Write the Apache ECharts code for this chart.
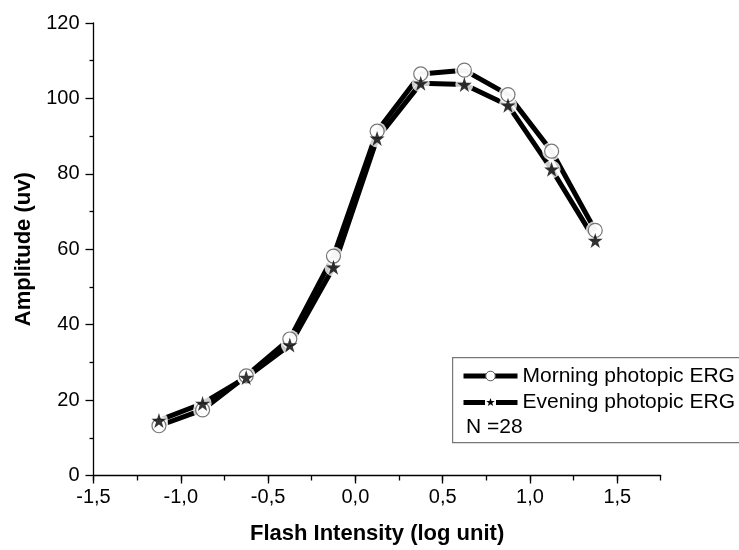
<!DOCTYPE html>
<html>
<head>
<meta charset="utf-8">
<script src="https://cdn.jsdelivr.net/npm/echarts@6/dist/echarts.min.js"></script>
<style>
  html, body { margin: 0; padding: 0; background: #fff; }
  #chart { width: 739px; height: 550px; }
</style>
</head>
<body>
<div id="chart"></div>
<script>
// Flash intensities (log unit) of the stimulus series
const intensities = [-1.125, -0.875, -0.625, -0.375, -0.125, 0.125, 0.375, 0.625, 0.875, 1.125, 1.375];
// Mean photopic ERG amplitudes (uv)
const morningAmp = [13.2, 17.4, 26.4, 36.2, 58.2, 91.3, 106.5, 107.5, 101.0, 86.0, 65.0];
const eveningAmp = [14.6, 19.1, 26.0, 34.6, 55.2, 89.4, 104.0, 103.7, 98.2, 81.2, 62.3];
const seriesNames = ['Morning photopic ERG', 'Evening photopic ERG'];
const sampleNote = 'N =28';

const pairs = vals => intensities.map((x, i) => [x, vals[i]]);
const FONT = '"Liberation Sans", Arial, sans-serif';
const comma = v => Number(v).toFixed(1).replace('.', ',');
const STAR = 'path://M50,0 L61.8,36.2 L100,36.2 L69.1,58.8 L80.9,95.1 L50,72.7 L19.1,95.1 L30.9,58.8 L0,36.2 L38.2,36.2 Z';
// legend key: thick dash, small star, thick dash
const STAR_KEY = 'path://M0,3.5 L21.5,3.5 L21.5,8.5 L0,8.5 Z ' +
  'M27,1.5 L28.06,4.54 L31.28,4.61 L28.71,6.56 L29.65,9.64 L27,7.8 L24.35,9.64 L25.29,6.56 L22.72,4.61 L25.94,4.54 Z ' +
  'M32.5,3.5 L54,3.5 L54,8.5 L32.5,8.5 Z';

const chart = echarts.init(document.getElementById('chart'), null, { renderer: 'canvas' });

const lineCommon = {
  type: 'line',
  xAxisIndex: 0, yAxisIndex: 0,
  showSymbol: false,
  symbolSize: 14,
  silent: true,
  z: 2
};

chart.setOption({
  animation: false,
  backgroundColor: '#fff',
  grid: [
    { left: 93.5, right: 78.3, top: 23, bottom: 74.5 },
    { left: 93.5, right: 121.7, top: 23, bottom: 74.5 }
  ],
  xAxis: [
    {
      // short ticks every 0.25 across the full extent
      type: 'value', gridIndex: 0, min: -1.5, max: 1.75, interval: 0.25,
      axisLine: { show: true, onZero: false, lineStyle: { color: '#000', width: 1.3 } },
      axisTick: { show: true, length: 5, lineStyle: { color: '#000', width: 1.3 } },
      axisLabel: { show: false },
      splitLine: { show: false },
      name: 'Flash Intensity (log unit)', nameLocation: 'middle', nameGap: 47,
      nameTextStyle: { fontFamily: FONT, fontSize: 22, fontWeight: 'bold', color: '#000' }
    },
    {
      // labelled long ticks every 0.5
      type: 'value', gridIndex: 1, min: -1.5, max: 1.5, interval: 0.5,
      axisLine: { show: false, onZero: false },
      axisTick: { show: true, length: 8, lineStyle: { color: '#000', width: 1.3 } },
      axisLabel: { show: true, margin: 12, fontFamily: FONT, fontSize: 20, color: '#000', formatter: comma },
      splitLine: { show: false }
    }
  ],
  yAxis: [
    {
      type: 'value', gridIndex: 0, min: 0, max: 120, interval: 20,
      axisLine: { show: true, onZero: false, lineStyle: { color: '#000', width: 1.3 } },
      axisTick: { show: true, length: 8, lineStyle: { color: '#000', width: 1.3 } },
      minorTick: { show: true, splitNumber: 2, length: 4, lineStyle: { color: '#000', width: 1.3 } },
      axisLabel: { margin: 14, fontFamily: FONT, fontSize: 20, color: '#000' },
      splitLine: { show: false },
      minorSplitLine: { show: false },
      name: 'Amplitude (uv)', nameLocation: 'middle', nameGap: 58,
      nameTextStyle: { fontFamily: FONT, fontSize: 22, fontWeight: 'bold', color: '#000' }
    },
    { type: 'value', gridIndex: 1, min: 0, max: 120, show: false }
  ],
  legend: {
    orient: 'vertical',
    left: 461, top: 365.5,
    itemWidth: 54, itemHeight: 12,
    itemGap: 5,
    selectedMode: false,
    padding: 0,
    lineStyle: { color: '#000', width: 5 },
    textStyle: { fontFamily: FONT, fontSize: 21, color: '#000', lineHeight: 21 },
    data: [
      { name: seriesNames[0], itemStyle: { color: '#fff', borderColor: '#555', borderWidth: 1 } },
      { name: seriesNames[1], icon: STAR_KEY, itemStyle: { color: '#000', borderWidth: 0 } }
    ]
  },
  graphic: [
    {
      type: 'rect', left: 452, top: 357, z: 0,
      shape: { width: 320, height: 85 },
      style: { fill: '#fff', stroke: '#777', lineWidth: 1.2 }
    },
    {
      type: 'text', left: 466, top: 417, z: 10,
      style: { text: sampleNote, fontFamily: FONT, fontSize: 21, fill: '#000' }
    }
  ],
  series: [
    Object.assign({}, lineCommon, {
      name: seriesNames[0],
      data: pairs(morningAmp),
      symbol: 'circle',
      lineStyle: { color: '#000', width: 5 },
      itemStyle: { color: '#fff', borderColor: '#444', borderWidth: 1 }
    }),
    Object.assign({}, lineCommon, {
      name: seriesNames[1],
      data: pairs(eveningAmp),
      symbol: STAR,
      lineStyle: { color: '#000', width: 5 },
      itemStyle: { color: '#000', borderWidth: 0 }
    }),
    // white halos leave a small gap between each line and its markers
    {
      type: 'scatter', silent: true, z: 3, symbol: 'circle', symbolSize: 19,
      data: pairs(morningAmp), itemStyle: { color: '#fff' }
    },
    {
      type: 'scatter', silent: true, z: 3, symbol: 'circle', symbolSize: 18,
      data: pairs(eveningAmp), itemStyle: { color: '#fff' }
    },
    // open circles: morning
    {
      type: 'scatter', silent: true, z: 4, symbol: 'circle', symbolSize: 14,
      data: pairs(morningAmp),
      itemStyle: { color: '#fff', borderColor: '#555', borderWidth: 1.2 }
    },
    // filled stars: evening
    {
      type: 'scatter', silent: true, z: 5, symbol: STAR, symbolSize: 15,
      data: pairs(eveningAmp),
      itemStyle: { color: '#000' }
    }
  ]
});
</script>
</body>
</html>
